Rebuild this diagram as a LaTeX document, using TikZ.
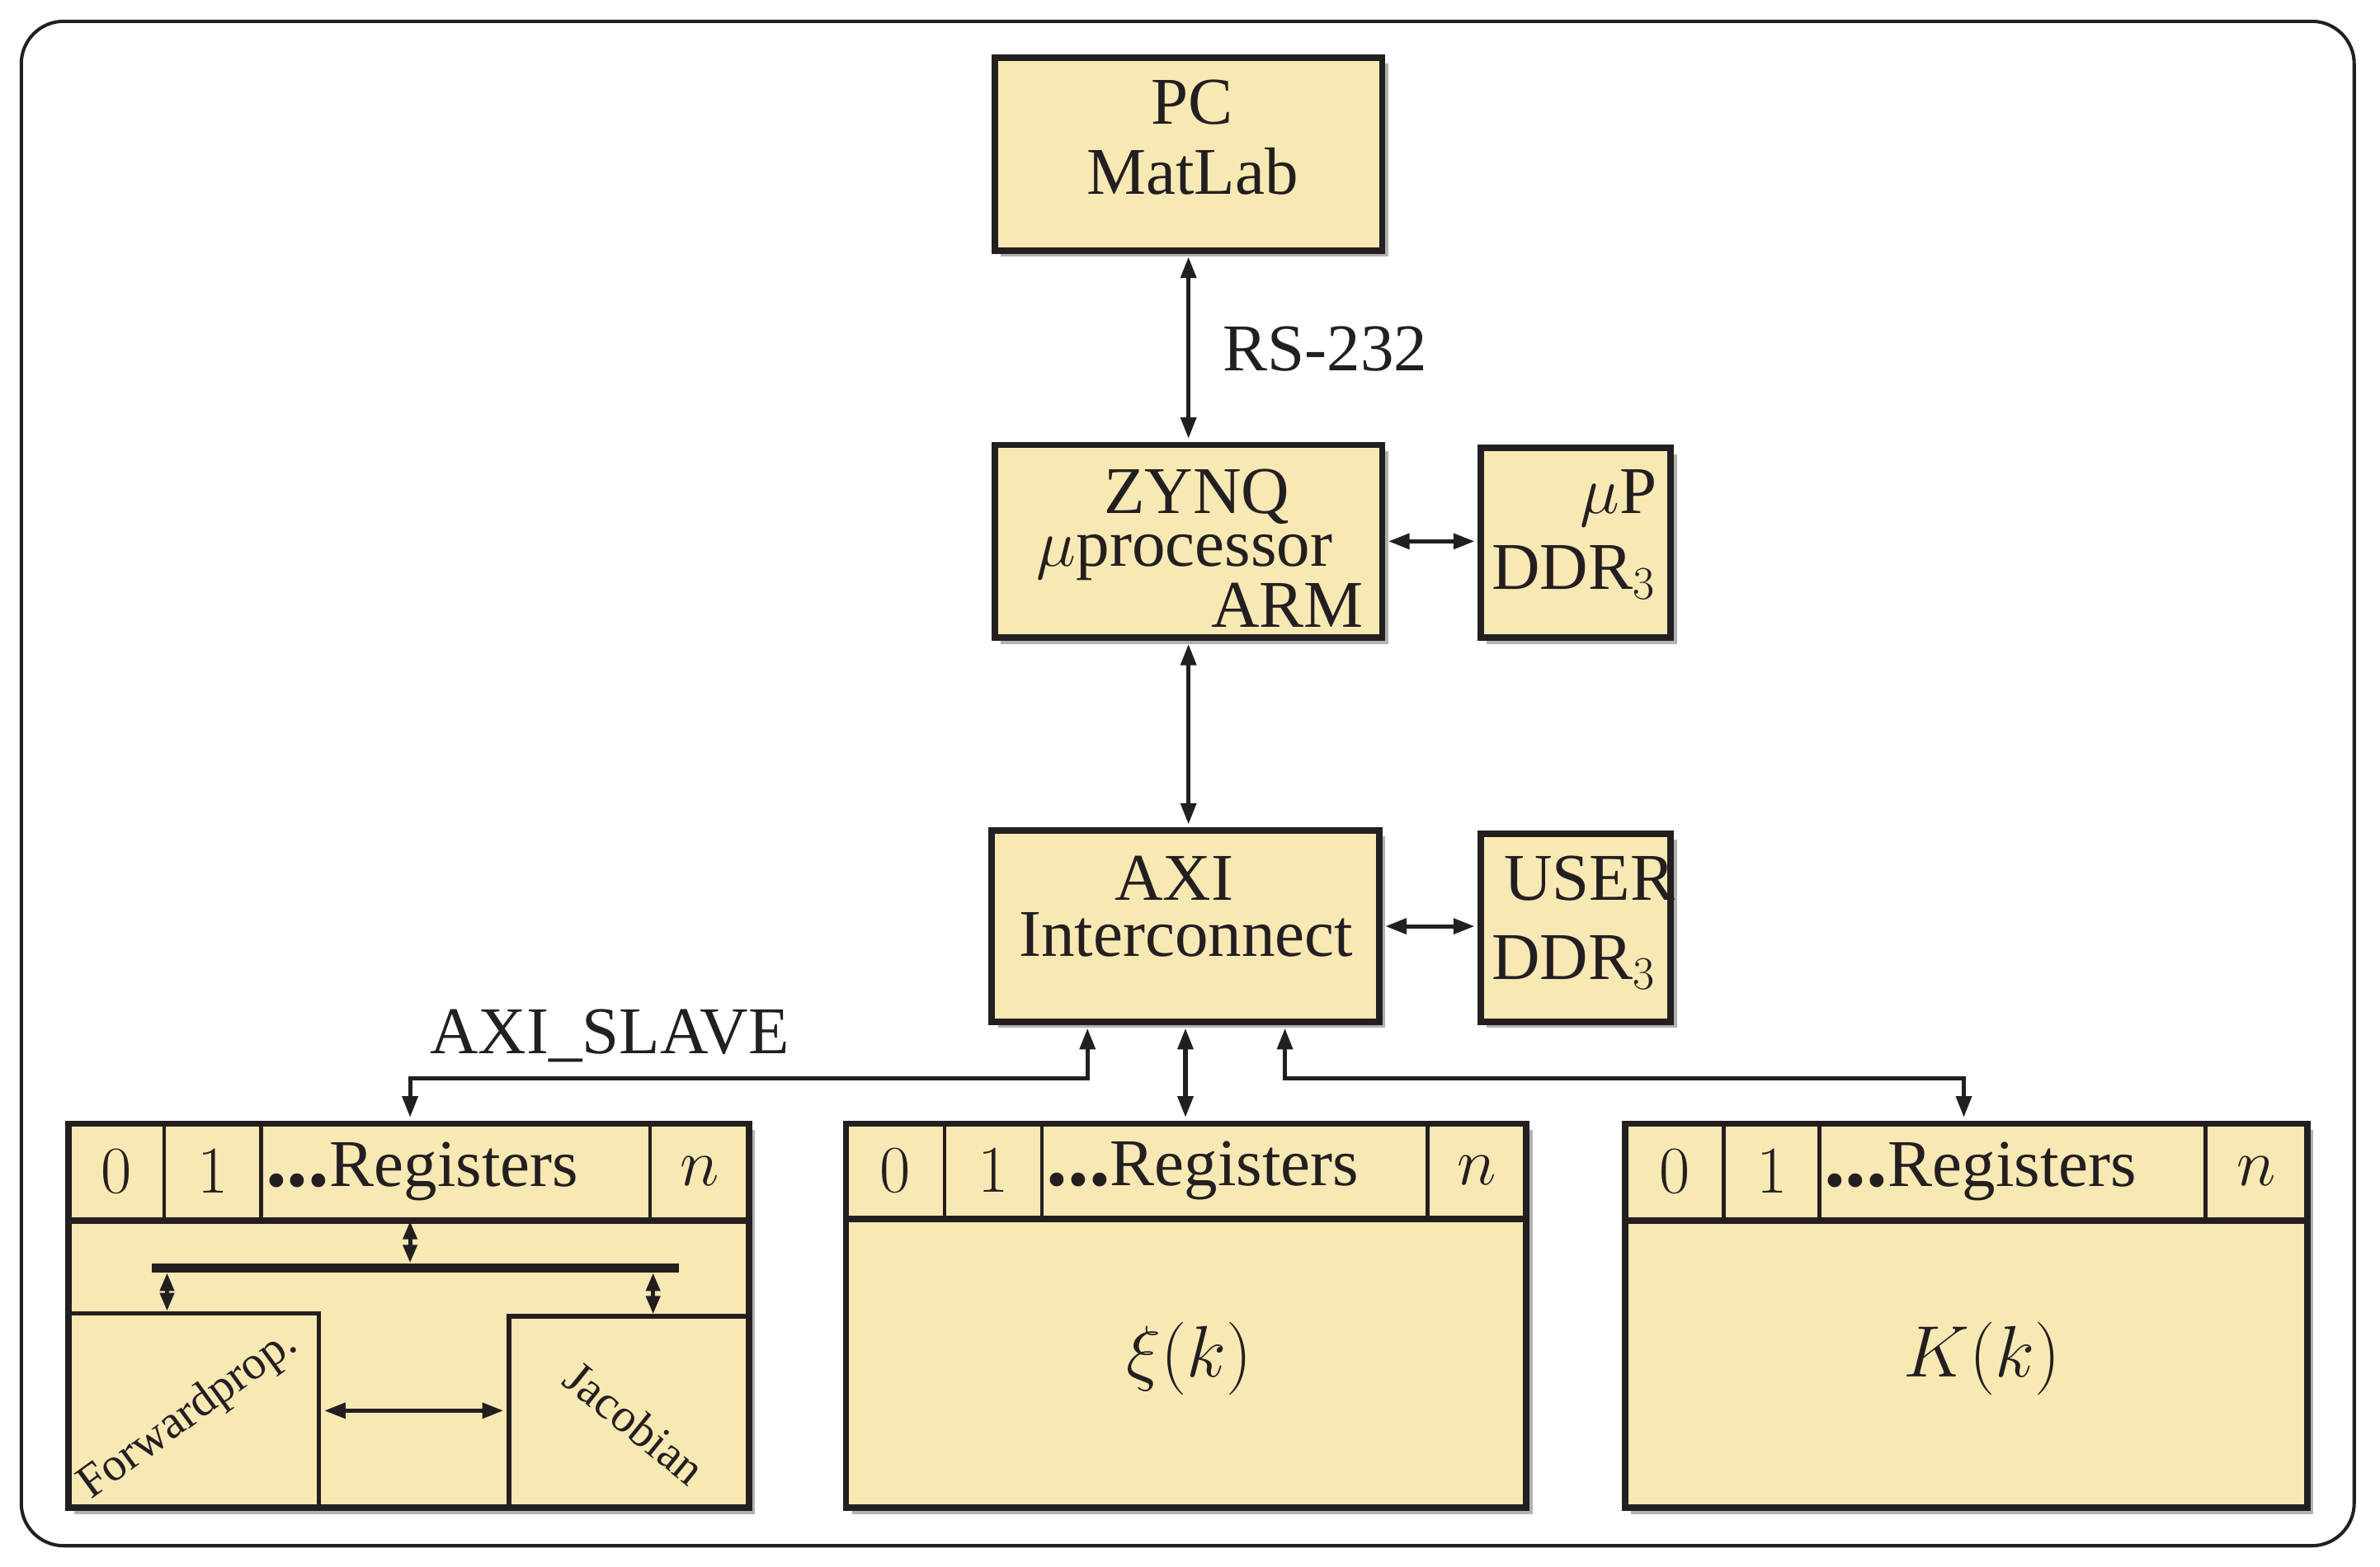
\RequirePackage{fix-cm}
\documentclass[tikz,border=0pt]{standalone}
\usepackage{fontspec}
\setmainfont{Liberation Serif}
\usetikzlibrary{arrows.meta,shadows}
\definecolor{boxfill}{RGB}{248,232,180}
\definecolor{ink}{RGB}{35,31,32}
\newcommand\mainsz{\fontsize{44}{48}\selectfont}
\newcommand\smallsz{\fontsize{31}{34}\selectfont}
\newcommand\mathsz{\fontsize{48}{52}\selectfont}
\newcommand\regdots{{\fontsize{56}{56}\selectfont\textbf{...}}}
\begin{document}
\begin{tikzpicture}[x=1pt,y=-1pt,
  every node/.style={text=ink, font=\mainsz},
  blk/.style={draw=ink, line width=4.2pt, fill=boxfill, inner sep=0pt,
    drop shadow={shadow xshift=4pt, shadow yshift=-4pt, opacity=0.3, fill=black}},
  cell/.style={draw=ink, line width=2.4pt, inner sep=0pt},
  sub/.style={draw=ink, line width=3pt, inner sep=0pt},
  lbl/.style={inner sep=0pt},
  dbl/.style={draw=ink, line width=2.8pt, {Triangle[length=14pt,width=10pt]}-{Triangle[length=14pt,width=10pt]}, shorten <=2pt, shorten >=2pt},
  sdbl/.style={draw=ink, line width=2.8pt, {Triangle[length=12pt,width=9pt]}-{Triangle[length=12pt,width=9pt]}}
]
\useasboundingbox (0,0) rectangle (1567,1031.5);

% outer frame
\node[draw=ink, line width=2.2pt, rounded corners=28pt, minimum width=1536pt, minimum height=1004pt, inner sep=0pt] (frame) at (782,516) {};

% top blocks
\node[blk, minimum width=255pt, minimum height=127pt] (pc) at (782.5,101.5) {};
\node[lbl, anchor=base] (pct1) at (785,82) {PC};
\node[lbl, anchor=base] (pct2) at (785,128) {MatLab};

\node[blk, minimum width=255pt, minimum height=127pt] (zynq) at (782.5,356.5) {};
\node[lbl, anchor=base] (zt1) at (788,338) {ZYNQ};
\node[lbl, anchor=base] (zt2) at (780,373) {$\mu$processor};
\node[lbl, anchor=base east] (zt3) at (898,413) {ARM};

\node[blk, minimum width=125pt, minimum height=125pt] (mup) at (1037.5,357.5) {};
\node[lbl, anchor=base east] (mt1) at (1091,338) {$\mu$P};
\node[lbl, anchor=base west] (mt2) at (982,388) {DDR$_3$};

\node[blk, minimum width=255pt, minimum height=126pt] (axi) at (780.5,610) {};
\node[lbl, anchor=base] (at1) at (773,593) {AXI};
\node[lbl, anchor=base] (at2) at (781,630) {Interconnect};

\node[blk, minimum width=125pt, minimum height=124pt] (user) at (1037.5,611) {};
\node[lbl, anchor=base west] (ut1) at (990,593) {USER};
\node[lbl, anchor=base west] (ut2) at (982,645) {DDR$_3$};

% connector labels
\node[lbl, anchor=base west] (rs) at (805,244) {RS-232};
\node[lbl, anchor=base west] (slave) at (283,694) {AXI\_SLAVE};

% ---------- left register block
\node[blk, minimum width=448pt, minimum height=253pt] (lbox) at (269,866.5) {};
\node[cell, minimum width=63pt, minimum height=63pt] (l0) at (76.5,771.5) {$0$};
\node[cell, minimum width=64pt, minimum height=63pt] (l1) at (140,771.5) {$1$};
\node[cell, minimum width=256pt, minimum height=63pt, text width=250pt, inner xsep=3pt, align=left] (lr) at (300,771.5) {\regdots Registers};
\node[cell, minimum width=65pt, minimum height=63pt] (ln) at (460.5,771.5) {$n$};
\draw[ink, line width=3.5pt] (l0.south west) -- (ln.south east);
\node[fill=ink, minimum width=347pt, minimum height=6pt, inner sep=0pt] (bus) at (273.5,835) {};
\node[sub, minimum width=165pt, minimum height=128pt] (fwd) at (127.5,929) {};
\node[sub, minimum width=158pt, minimum height=126pt] (jac) at (414,930) {};
\node[lbl, font=\smallsz, rotate=36] (fwdt) at (124,932) {Forwardprop.};
\node[lbl, font=\smallsz, rotate=-39] (jact) at (418,937) {Jacobian};
\coordinate (lx) at (270,0);
\coordinate (fx) at (110,0);
\coordinate (jx) at (430,0);
\draw[sdbl] (lx |- lr.south) -- (lx |- bus.north);
\draw[sdbl] (fx |- bus.south) -- (fx |- fwd.north);
\draw[sdbl] (jx |- bus.south) -- (jx |- jac.north);
\draw[dbl] (fwd.east) -- (fwd.east -| jac.west);

% ---------- middle register block
\node[blk, minimum width=448pt, minimum height=253pt] (mbox) at (781,866.5) {};
\node[cell, minimum width=65pt, minimum height=62pt] (m0) at (589.5,771) {$0$};
\node[cell, minimum width=64pt, minimum height=62pt] (m1) at (654,771) {$1$};
\node[cell, minimum width=254pt, minimum height=62pt, text width=248pt, inner xsep=3pt, align=left] (mr) at (813,771) {\regdots Registers};
\node[cell, minimum width=65pt, minimum height=62pt] (mn) at (972.5,771) {$n$};
\draw[ink, line width=3.5pt] (m0.south west) -- (mn.south east);
\node[lbl, font=\mathsz] (xi) at (783,895) {$\xi(k)$};

% ---------- right register block
\node[blk, minimum width=449pt, minimum height=253pt] (rbox) at (1294.5,866.5) {};
\node[cell, minimum width=65pt, minimum height=63pt] (r0) at (1102.5,771.5) {$0$};
\node[cell, minimum width=63pt, minimum height=63pt] (r1) at (1166.5,771.5) {$1$};
\node[cell, minimum width=254pt, minimum height=63pt, text width=248pt, inner xsep=3pt, align=left] (rr) at (1325,771.5) {\regdots Registers};
\node[cell, minimum width=67pt, minimum height=63pt] (rn) at (1485.5,771.5) {$n$};
\draw[ink, line width=3.5pt] (r0.south west) -- (rn.south east);
\node[lbl, font=\mathsz] (kk) at (1305,895) {$K(k)$};

% ---------- connectors
\draw[dbl] (pc.south) -- (pc.south |- zynq.north);
\draw[dbl] (zynq.east) -- (zynq.east -| mup.west);
\draw[dbl] (zynq.south) -- (zynq.south |- axi.north);
\draw[dbl] (axi.east) -- (axi.east -| user.west);
\coordinate (ax1) at (716,0);
\coordinate (ax3) at (846,0);
\coordinate (rx) at (1293,0);
\draw[dbl] (ax1 |- axi.south) -- ++(0,35) -| (lx |- lbox.north);
\draw[dbl] (axi.south) -- (axi.south |- mbox.north);
\draw[dbl] (ax3 |- axi.south) -- ++(0,35) -| (rx |- rbox.north);
\end{tikzpicture}
\end{document}
